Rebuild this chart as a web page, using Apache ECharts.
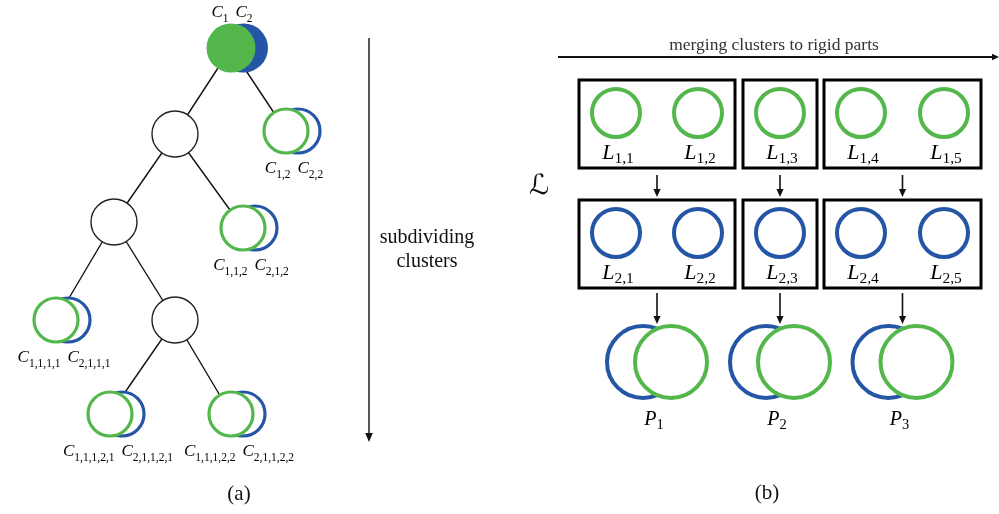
<!DOCTYPE html>
<html>
<head>
<meta charset="utf-8">
<script src="https://cdn.jsdelivr.net/npm/echarts@6/dist/echarts.min.js"></script>
<style>
  html, body { margin: 0; padding: 0; background: #fff; }
  #chart { width: 999px; height: 514px; }
</style>
</head>
<body>
<div id="chart"></div>
<script>
// ---------- (a) hierarchical subdivision of clusters ----------
// every node is named by its index path; '' is the root pair C1 / C2
const treePaths = ['', '1', '2', '1,1', '1,2', '1,1,1', '1,1,2', '1,1,2,1', '1,1,2,2'];
// node centres in diagram units
const treeX = [231, 175, 286, 114, 243, 56, 175, 110, 231];
const treeY = [48, 134, 131, 222, 228, 320, 320, 414, 414];

// ---------- (b) merging leaf clusters into rigid parts ----------
const levelNames = ['1', '2'];          // L_{1,k} (green) and L_{2,k} (blue)
const parts = [[1, 2], [3], [4, 5]];    // leaf clusters k grouped per rigid part
const partNames = ['1', '2', '3'];
const clusterX = [616, 698, 780, 861, 944];
const levelY = [113, 233];
const partY = 362;

// ---------- captions ----------
const subdivideCaption = ['subdividing', 'clusters'];
const mergeCaption = 'merging clusters to rigid parts';
const panelTags = ['(a)', '(b)'];
const setSymbol = '\u2112';

const GREEN = '#53b74c';
const BLUE = '#2456a5';
const INK = '#111';
const SERIF = '"Liberation Serif", "DejaVu Serif", serif';

function mathStyles(main, sub, lineH, subH) {
  return {
    m: { fontFamily: SERIF, fontStyle: 'italic', fontSize: main, lineHeight: lineH, color: INK },
    s: { fontFamily: SERIF, fontSize: sub, lineHeight: subH, verticalAlign: 'bottom', color: INK },
    g: { fontFamily: SERIF, fontSize: main, lineHeight: lineH, width: 7 }
  };
}
const treeRich = mathStyles(17, 11.5, 24, 11);
const levelRich = mathStyles(22, 15.5, 28, 12);
const partRich = mathStyles(20, 14.5, 26, 12);

const parentOf = p => (p === '' ? null : (p.includes(',') ? p.slice(0, p.lastIndexOf(',')) : ''));
const isInner = p => treePaths.some(q => parentOf(q) === p);

function arrowHead(x, y, dx, dy, len, half) {
  // triangle with its tip at (x, y) pointing along (dx, dy)
  const bx = x - dx * len, by = y - dy * len;
  return {
    type: 'polygon',
    shape: { points: [[x, y], [bx - dy * half, by + dx * half], [bx + dy * half, by - dx * half]] },
    style: { fill: INK }
  };
}
function arrow(p0, p1, lw, len, half) {
  const L = Math.hypot(p1[0] - p0[0], p1[1] - p0[1]);
  const dx = (p1[0] - p0[0]) / L, dy = (p1[1] - p0[1]) / L;
  return {
    type: 'group',
    children: [
      { type: 'line', shape: { x1: p0[0], y1: p0[1], x2: p1[0] - dx * len * 0.6, y2: p1[1] - dy * len * 0.6 },
        style: { stroke: INK, lineWidth: lw } },
      arrowHead(p1[0], p1[1], dx, dy, len, half)
    ]
  };
}
function ring(c, r, color, lw, filled) {
  return {
    type: 'circle',
    shape: { cx: c[0], cy: c[1], r: r },
    style: { fill: filled ? color : '#fff', stroke: color, lineWidth: lw }
  };
}

// ---- series data built from the arrays above ----
const edgeData = [];
treePaths.forEach((p, i) => {
  const par = parentOf(p);
  if (par === null) return;
  const j = treePaths.indexOf(par);
  edgeData.push([treeX[j], treeY[j], treeX[i], treeY[i]]);
});
const nodeData = treePaths.map((p, i) => [treeX[i], treeY[i], i]);

const boxData = [];
const clusterData = [];
levelY.forEach((y, l) => {
  parts.forEach(ks => {
    boxData.push([clusterX[ks[0] - 1], clusterX[ks[ks.length - 1] - 1], y]);
    ks.forEach(k => clusterData.push([clusterX[k - 1], y, l, k]));
  });
});
const partCentre = parts.map(ks => (clusterX[ks[0] - 1] + clusterX[ks[ks.length - 1] - 1]) / 2);
const partData = partCentre.map((x, i) => [x, partY, i]);

const chart = echarts.init(document.getElementById('chart'));
chart.setOption({
  animation: false,
  grid: { left: 0, right: 0, top: 0, bottom: 0 },
  xAxis: { type: 'value', min: 0, max: 999, show: false },
  yAxis: { type: 'value', min: 0, max: 514, inverse: true, show: false },
  series: [
    // tree edges
    {
      type: 'custom', z: 1, data: edgeData,
      renderItem: (params, api) => {
        const a = api.coord([api.value(0), api.value(1)]);
        const b = api.coord([api.value(2), api.value(3)]);
        return { type: 'line', shape: { x1: a[0], y1: a[1], x2: b[0], y2: b[1] },
                 style: { stroke: INK, lineWidth: 1.4 } };
      }
    },
    // tree nodes and their labels
    {
      type: 'custom', z: 2, data: nodeData,
      renderItem: (params, api) => {
        const c = api.coord([api.value(0), api.value(1)]);
        const p = treePaths[api.value(2)];
        if (p === '') {
          const b = [c[0] + 12.5, c[1]];
          return { type: 'group', children: [
            ring(b, 24.5, BLUE, 0, true),
            ring(c, 24.5, GREEN, 0, true),
            { type: 'text', x: c[0] + 1, y: c[1] - 35,
              style: { text: '{m|C}{s|1}{g| }{m|C}{s|2}', rich: treeRich, align: 'center', verticalAlign: 'middle' } }
          ] };
        }
        if (isInner(p)) {
          return ring([c[0], c[1]], 23, '#222', 1.4, false);
        }
        const b = [c[0] + 12, c[1]];
        return { type: 'group', children: [
          ring(b, 22, BLUE, 3.2, false),
          ring(c, 22, GREEN, 3.2, false),
          { type: 'text', x: c[0] + 8, y: c[1] + 38,
            style: { text: '{m|C}{s|1,' + p + '}{g| }{m|C}{s|2,' + p + '}', rich: treeRich,
                     align: 'center', verticalAlign: 'middle' } }
        ] };
      }
    },
    // part boxes on each level
    {
      type: 'custom', z: 1, data: boxData,
      renderItem: (params, api) => {
        const a = api.coord([api.value(0), api.value(2)]);
        const b = api.coord([api.value(1), api.value(2)]);
        return { type: 'rect',
                 shape: { x: a[0] - 37, y: a[1] - 33, width: b[0] - a[0] + 74, height: 88 },
                 style: { fill: 'none', stroke: '#000', lineWidth: 3 } };
      }
    },
    // leaf clusters per level
    {
      type: 'custom', z: 2, data: clusterData,
      renderItem: (params, api) => {
        const c = api.coord([api.value(0), api.value(1)]);
        const l = api.value(2), k = api.value(3);
        return { type: 'group', children: [
          ring(c, 24, l === 0 ? GREEN : BLUE, 4, false),
          { type: 'text', x: c[0] + 2, y: c[1] + 40,
            style: { text: '{m|L}{s|' + levelNames[l] + ',' + k + '}', rich: levelRich,
                     align: 'center', verticalAlign: 'middle' } }
        ] };
      }
    },
    // arrows between levels and the merged rigid parts
    {
      type: 'custom', z: 3, data: partData,
      renderItem: (params, api) => {
        const x = api.value(0), y = api.value(1), i = api.value(2);
        const c = api.coord([x, y]);
        const bl = api.coord([x - 14, y]);
        const gr = api.coord([x + 14, y]);
        const a1 = api.coord([x, levelY[0] + 62]), a2 = api.coord([x, levelY[1] - 36]);
        const b1 = api.coord([x, levelY[1] + 60]), b2 = api.coord([x, y - 38]);
        return { type: 'group', children: [
          arrow(a1, a2, 1.6, 8, 3.6),
          arrow(b1, b2, 1.6, 8, 3.6),
          ring(bl, 36, BLUE, 4, false),
          ring(gr, 36, GREEN, 4, false),
          { type: 'text', x: c[0] - 3, y: c[1] + 58,
            style: { text: '{m|P}{s|' + partNames[i] + '}', rich: partRich,
                     align: 'center', verticalAlign: 'middle' } }
        ] };
      }
    },
    // axis arrows, captions and panel tags
    {
      type: 'custom', z: 3, data: [[0]],
      renderItem: (params, api) => {
        const P = (x, y) => api.coord([x, y]);
        const txt = (pt, text, size, extra) => ({
          type: 'text', x: pt[0], y: pt[1],
          style: Object.assign({ text: text, fontFamily: SERIF, fontSize: size, fill: INK,
                                 align: 'center', verticalAlign: 'middle' }, extra || {})
        });
        return { type: 'group', children: [
          arrow(P(369, 38), P(369, 442), 1.4, 9, 3.8),
          txt(P(427, 238), subdivideCaption[0], 20),
          txt(P(427, 262), subdivideCaption[1], 20),
          arrow(P(558, 57), P(999, 57), 1.8, 7, 3.2),
          txt(P(774, 45), mergeCaption, 17.5, { fill: '#333' }),
          txt(P(539, 187), setSymbol, 28, { fontFamily: '"DejaVu Serif", "DejaVu Sans", serif', fontStyle: 'italic' }),
          txt(P(239, 494), panelTags[0], 21),
          txt(P(767, 493), panelTags[1], 21)
        ] };
      }
    }
  ]
});
</script>
</body>
</html>
